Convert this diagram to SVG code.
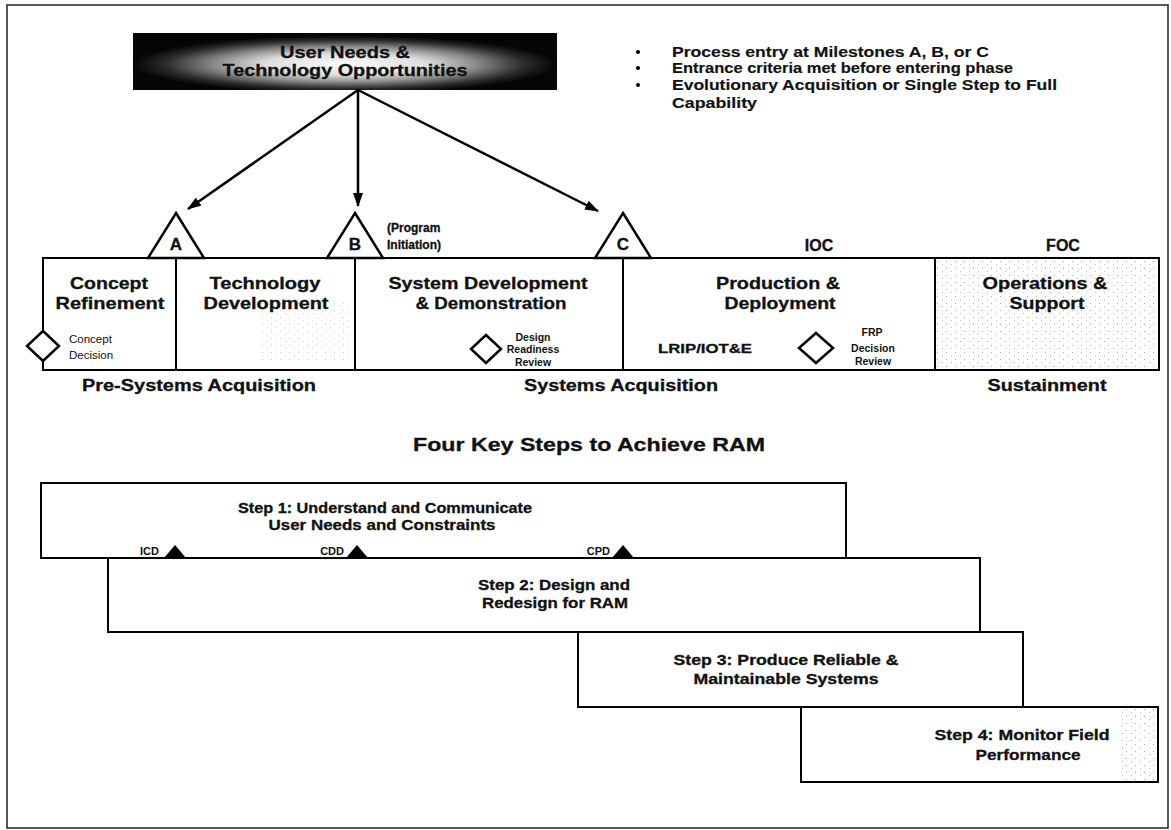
<svg xmlns="http://www.w3.org/2000/svg" width="1171" height="830" viewBox="0 0 1171 830">
  <defs>
    <style>
      text { font-family: "Liberation Sans", Arial, sans-serif; font-weight: bold; fill: #111; stroke: #111; stroke-width: 0.3px; }
      .ph { font-size: 16.5px; text-anchor: middle; }
      .grp { font-size: 16px; text-anchor: middle; }
      .ms { font-size: 17px; text-anchor: middle; }
      .small { font-size: 11.5px; font-weight: normal; stroke: none; }
      .tiny { font-size: 10.5px; text-anchor: middle; stroke: none; }
      .bul { font-size: 14.5px; stroke-width: 0.15px; }
      .step { font-size: 15px; text-anchor: middle; }
      .tag { font-size: 11px; text-anchor: end; stroke: none; }
      .box { fill: #fff; stroke: #000; stroke-width: 2; }
      .tri { fill: #fff; stroke: #000; stroke-width: 2.5; stroke-linejoin: miter; }
      .dia { fill: #fff; stroke: #000; stroke-width: 2.5; }
      .conn { stroke: #000; stroke-width: 2.5; fill: none; }
    </style>
    <radialGradient id="glow" cx="0.5" cy="0.55" r="0.5">
      <stop offset="0" stop-color="#fbfbfb"/>
      <stop offset="0.38" stop-color="#dedede"/>
      <stop offset="0.62" stop-color="#8a8a8a"/>
      <stop offset="0.85" stop-color="#2a2a2a"/>
      <stop offset="1" stop-color="#050505"/>
    </radialGradient>
    <pattern id="speckle" width="9" height="7" patternUnits="userSpaceOnUse">
      <rect x="1" y="2" width="1" height="1" fill="#aaa"/>
      <rect x="6" y="5" width="1" height="1" fill="#bbb"/>
    </pattern>
    <marker id="head" viewBox="0 0 14 10" refX="13" refY="5" markerWidth="14" markerHeight="10" markerUnits="userSpaceOnUse" orient="auto">
      <path d="M0,0 L14,5 L0,10 Z" fill="#000"/>
    </marker>
  </defs>

  <rect width="1171" height="830" fill="#fff"/>
  <!-- page frame -->
  <rect x="7" y="5" width="1161" height="823" fill="none" stroke="#222" stroke-width="1.5"/>

  <!-- source of needs -->
  <g id="needs">
    <rect x="133" y="33" width="424" height="57" fill="url(#glow)"/>
    <text x="345" y="58" font-size="16" text-anchor="middle" textLength="130" lengthAdjust="spacingAndGlyphs">User Needs &amp;</text>
    <text x="345" y="76" font-size="16" text-anchor="middle" textLength="245" lengthAdjust="spacingAndGlyphs">Technology Opportunities</text>
  </g>

  <!-- entry notes -->
  <g id="notes">
    <circle cx="638" cy="52" r="2"/>
    <circle cx="638" cy="68" r="2"/>
    <circle cx="638" cy="85" r="2"/>
    <text class="bul" x="672" y="57" textLength="317" lengthAdjust="spacingAndGlyphs">Process entry at Milestones A, B, or C</text>
    <text class="bul" x="672" y="73" textLength="341" lengthAdjust="spacingAndGlyphs">Entrance criteria met before entering phase</text>
    <text class="bul" x="672" y="90" textLength="385" lengthAdjust="spacingAndGlyphs">Evolutionary Acquisition or Single Step to Full</text>
    <text class="bul" x="672" y="108" textLength="85" lengthAdjust="spacingAndGlyphs">Capability</text>
  </g>

  <!-- arrows from needs to milestones -->
  <g id="connectors">
    <line class="conn" x1="358" y1="90" x2="188" y2="209" marker-end="url(#head)"/>
    <line class="conn" x1="358" y1="90" x2="358" y2="206" marker-end="url(#head)"/>
    <line class="conn" x1="358" y1="90" x2="598" y2="211" marker-end="url(#head)"/>
  </g>

  <!-- acquisition phases -->
  <g id="phase-concept">
    <rect class="box" x="43" y="258" width="133" height="112"/>
    <text class="ph" x="109" y="289" textLength="78" lengthAdjust="spacingAndGlyphs">Concept</text>
    <text class="ph" x="110" y="309" textLength="109" lengthAdjust="spacingAndGlyphs">Refinement</text>
    <path class="dia" d="M43,331 L59,346 L43,361 L27,346 Z"/>
    <text class="small" x="69" y="343">Concept</text>
    <text class="small" x="69" y="359">Decision</text>
  </g>
  <g id="phase-technology">
    <rect class="box" x="176" y="258" width="179" height="112"/>
    <rect x="260" y="300" width="90" height="60" fill="url(#speckle)" opacity="0.6"/>
    <text class="ph" x="265" y="289" textLength="111" lengthAdjust="spacingAndGlyphs">Technology</text>
    <text class="ph" x="266" y="309" textLength="125" lengthAdjust="spacingAndGlyphs">Development</text>
  </g>
  <g id="phase-sdd">
    <rect class="box" x="355" y="258" width="268" height="112"/>
    <text class="ph" x="488" y="289" textLength="199" lengthAdjust="spacingAndGlyphs">System Development</text>
    <text class="ph" x="491" y="309" textLength="151" lengthAdjust="spacingAndGlyphs">&amp; Demonstration</text>
    <path class="dia" d="M486,335 L501,349 L486,363 L471,349 Z"/>
    <text class="tiny" x="533" y="341">Design</text>
    <text class="tiny" x="533" y="353">Readiness</text>
    <text class="tiny" x="533" y="366">Review</text>
  </g>
  <g id="phase-production">
    <rect class="box" x="623" y="258" width="312" height="112"/>
    <text class="ph" x="778" y="289" textLength="124" lengthAdjust="spacingAndGlyphs">Production &amp;</text>
    <text class="ph" x="780" y="309" textLength="111" lengthAdjust="spacingAndGlyphs">Deployment</text>
    <text x="705" y="353" font-size="13" text-anchor="middle" textLength="94" lengthAdjust="spacingAndGlyphs">LRIP/IOT&amp;E</text>
    <path class="dia" d="M816,333 L833,348 L816,363 L799,348 Z"/>
    <text class="tiny" x="872" y="336">FRP</text>
    <text class="tiny" x="873" y="352">Decision</text>
    <text class="tiny" x="873" y="365">Review</text>
  </g>
  <g id="phase-support">
    <rect class="box" x="935" y="258" width="224" height="112"/>
    <rect x="937" y="260" width="220" height="108" fill="url(#speckle)"/>
    <text class="ph" x="1045" y="289" textLength="125" lengthAdjust="spacingAndGlyphs">Operations &amp;</text>
    <text class="ph" x="1047" y="309" textLength="75" lengthAdjust="spacingAndGlyphs">Support</text>
  </g>

  <!-- milestones -->
  <g id="milestone-a">
    <path class="tri" d="M176,213 L204,258 L148,258 Z"/>
    <text class="ms" x="176" y="250">A</text>
  </g>
  <g id="milestone-b">
    <path class="tri" d="M355,213 L383,258 L327,258 Z"/>
    <text class="ms" x="355" y="250">B</text>
    <text x="387" y="232" font-size="12" stroke="none">(Program</text>
    <text x="387" y="249" font-size="12" stroke="none">Initiation)</text>
  </g>
  <g id="milestone-c">
    <path class="tri" d="M623,213 L651,258 L595,258 Z"/>
    <text class="ms" x="623" y="250">C</text>
  </g>
  <g id="ioc"><text class="grp" x="819" y="251" font-size="16.5">IOC</text></g>
  <g id="foc"><text class="grp" x="1063" y="251" font-size="16.5">FOC</text></g>

  <!-- activity groupings -->
  <g id="labels">
    <text class="grp" x="199" y="391" textLength="234" lengthAdjust="spacingAndGlyphs">Pre-Systems Acquisition</text>
    <text class="grp" x="621" y="391" textLength="194" lengthAdjust="spacingAndGlyphs">Systems Acquisition</text>
    <text class="grp" x="1047" y="391" textLength="119" lengthAdjust="spacingAndGlyphs">Sustainment</text>
  </g>

  <!-- RAM steps -->
  <g id="title">
    <text x="413" y="451" font-size="18" textLength="352" lengthAdjust="spacingAndGlyphs">Four Key Steps to Achieve RAM</text>
  </g>
  <g id="step1">
    <rect class="box" x="41" y="483" width="805" height="75"/>
    <text class="step" x="385" y="513" textLength="294" lengthAdjust="spacingAndGlyphs">Step 1: Understand and Communicate</text>
    <text class="step" x="382" y="530" textLength="227" lengthAdjust="spacingAndGlyphs">User Needs and Constraints</text>
  </g>
  <g id="step2">
    <rect class="box" x="108" y="558" width="872" height="74"/>
    <text class="step" x="554" y="590" textLength="152" lengthAdjust="spacingAndGlyphs">Step 2: Design and</text>
    <text class="step" x="555" y="608" textLength="146" lengthAdjust="spacingAndGlyphs">Redesign for RAM</text>
  </g>
  <g id="doc-markers">
    <text class="tag" x="159" y="555">ICD</text>
    <path d="M175,545 L186,558 L164,558 Z" fill="#000"/>
    <text class="tag" x="344" y="555">CDD</text>
    <path d="M357,545 L368,558 L346,558 Z" fill="#000"/>
    <text class="tag" x="610" y="555">CPD</text>
    <path d="M623,545 L634,558 L612,558 Z" fill="#000"/>
  </g>
  <g id="step3">
    <rect class="box" x="578" y="632" width="445" height="75"/>
    <text class="step" x="786" y="665" textLength="225" lengthAdjust="spacingAndGlyphs">Step 3: Produce Reliable &amp;</text>
    <text class="step" x="786" y="684" textLength="185" lengthAdjust="spacingAndGlyphs">Maintainable Systems</text>
  </g>
  <g id="step4">
    <rect class="box" x="801" y="707" width="357" height="75"/>
    <rect x="1120" y="709" width="36" height="71" fill="url(#speckle)"/>
    <text class="step" x="1022" y="740" textLength="175" lengthAdjust="spacingAndGlyphs">Step 4: Monitor Field</text>
    <text class="step" x="1028" y="760" textLength="105" lengthAdjust="spacingAndGlyphs">Performance</text>
  </g>
</svg>
